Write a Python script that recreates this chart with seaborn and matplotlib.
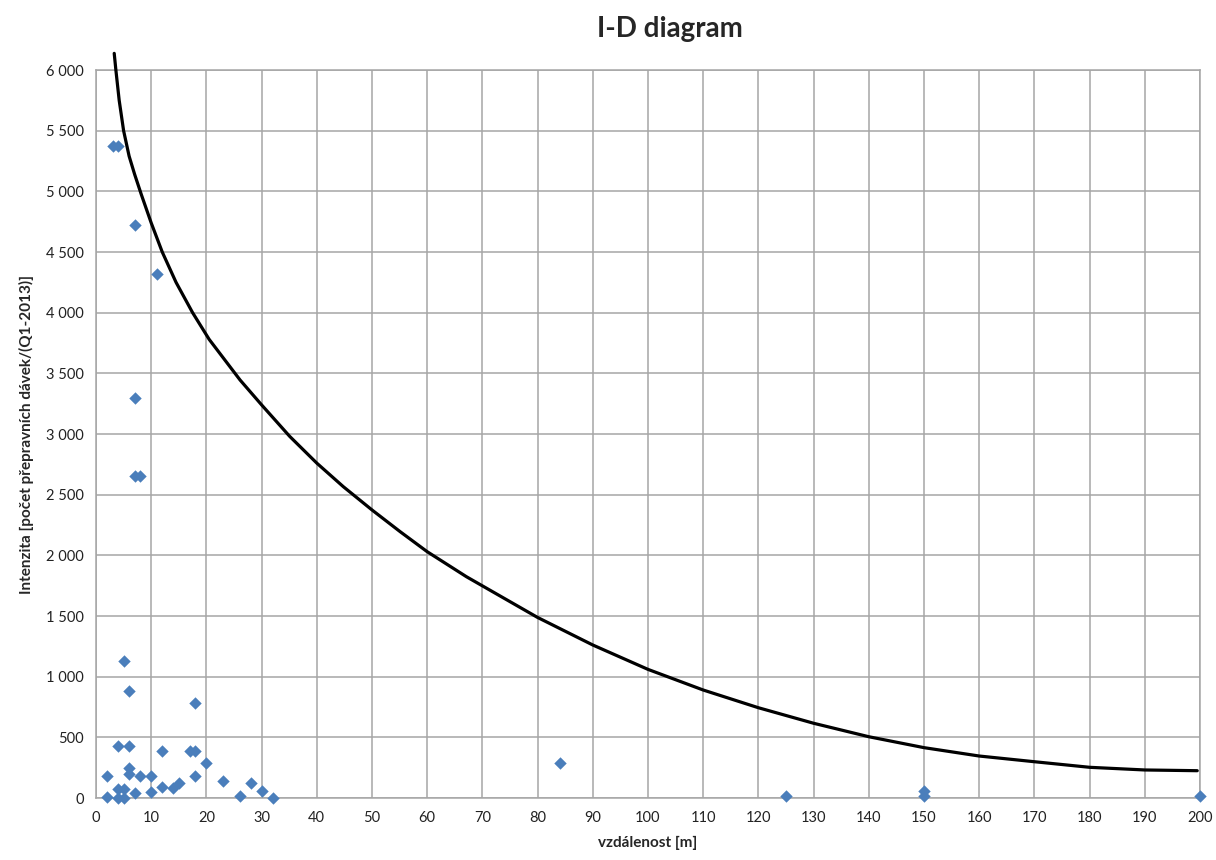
import numpy as np
import pandas as pd
import seaborn as sns
import matplotlib.pyplot as plt
from matplotlib.ticker import FuncFormatter, MultipleLocator

# measured points: distance [m] and intensity
vzdalenost = [3, 4, 7, 11, 7, 7, 8, 5, 6, 18, 4, 6, 12, 17, 18, 20, 6, 6, 2, 8,
              10, 18, 23, 28, 15, 14, 12, 4, 5, 30, 10, 7, 26, 2, 4, 5, 32,
              84, 125, 150, 150, 200]
intenzita = [5370, 5370, 4725, 4320, 3300, 2655, 2655, 1130, 880, 780, 430, 430, 390, 390, 390, 290, 250, 200, 185, 185,
             185, 185, 140, 125, 125, 80, 90, 75, 75, 60, 50, 40, 20, 5, 0, 0, 0,
             290, 15, 60, 15, 15]

# trendline
trend_x = [3.3, 3.6, 4.2, 5.0, 6.0, 7.0, 8.2, 10, 12, 14.5, 17.5, 20.5, 26.1, 30, 35.1, 40, 44.8,
           50, 55.1, 60, 67.1, 80, 90, 100, 110, 120, 130, 140, 150, 160, 170, 180, 190, 199.5]
trend_y = [6137, 6000, 5750, 5500, 5290, 5140, 4975, 4740, 4500, 4250, 4000, 3780, 3445, 3240, 2980, 2760, 2566,
           2374, 2195, 2030, 1824, 1488, 1261, 1060, 890, 744, 616, 505, 415, 346, 299, 253, 231, 225]

df = pd.DataFrame({"x": vzdalenost, "y": intenzita})
trend = pd.DataFrame({"x": trend_x, "y": trend_y})

sns.set_style("white")
plt.rcParams["font.family"] = ["Lato", "DejaVu Sans"]

fig = plt.figure(figsize=(12.16, 8.6), dpi=100)
ax = fig.add_axes([96 / 1216, 1 - 798 / 860, 1104 / 1216, 728 / 860])

sns.lineplot(data=trend, x="x", y="y", ax=ax, color="black", linewidth=2.3,
             sort=False, estimator=None, clip_on=False, zorder=3)
sns.scatterplot(data=df, x="x", y="y", ax=ax, marker="D", s=40, color="#4A7EBB",
                linewidth=0, clip_on=False, zorder=4)

ax.set_xlim(0, 200)
ax.set_ylim(0, 6000)
ax.xaxis.set_major_locator(MultipleLocator(10))
ax.yaxis.set_major_locator(MultipleLocator(500))
ax.yaxis.set_major_formatter(FuncFormatter(lambda v, p: f"{v:,.0f}".replace(",", " ")))
ax.grid(True, color="#a6a6a6", linewidth=1.1)
for s in ax.spines.values():
    s.set_color("#a6a6a6")
    s.set_linewidth(1.1)
ax.tick_params(axis="both", labelsize=10.5, length=0, pad=9, colors="#222222")

ax.set_xlabel("vzdálenost [m]", fontsize=11, fontweight="bold", labelpad=8)
ax.set_ylabel("Intenzita [počet přepravních dávek/(Q1-2013)]", fontsize=11,
              fontweight="bold", labelpad=8)
fig.text(670 / 1216, 1 - 29 / 860, "I-D diagram", ha="center", va="center",
         fontsize=20, fontweight="bold")

fig.savefig("out.png", dpi=100)
